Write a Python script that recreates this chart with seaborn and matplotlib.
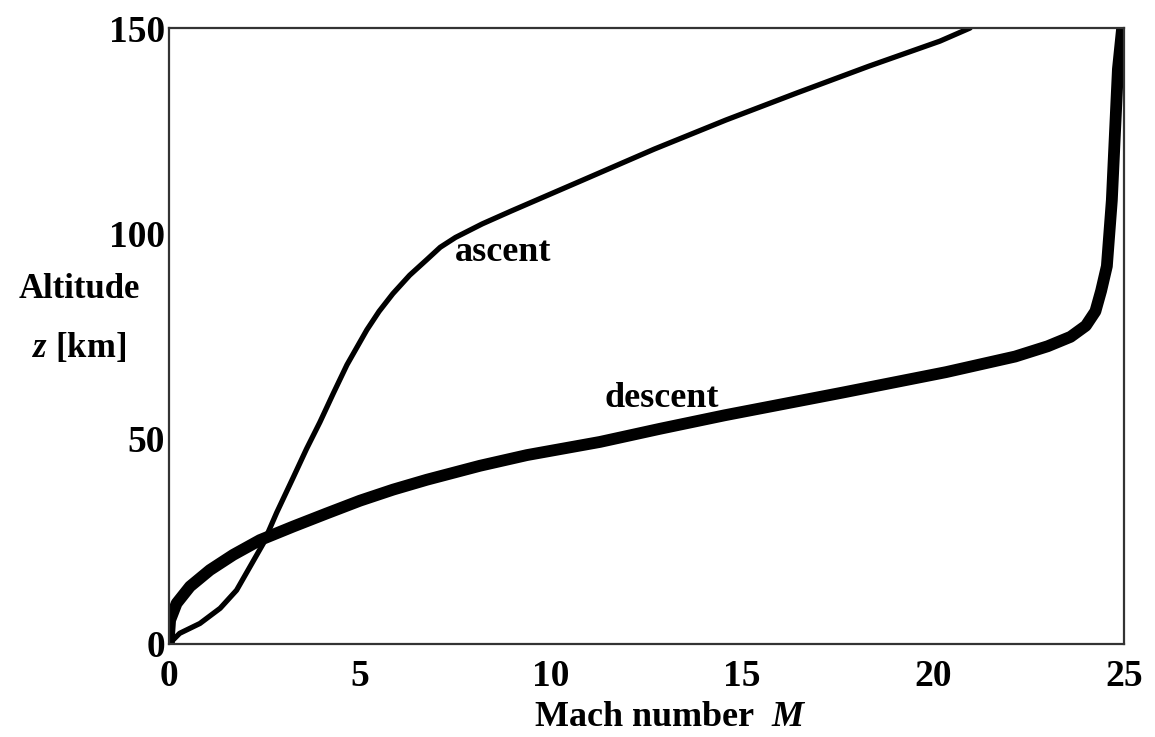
import numpy as np
import pandas as pd
import matplotlib
matplotlib.use("Agg")
import matplotlib.pyplot as plt
import seaborn as sns

# ascent trajectory: Mach number vs altitude [km]
ascent_M = [0.0, 0.28, 0.81, 1.34, 1.77, 2.12, 2.47, 2.82, 3.25, 3.6, 3.95, 4.3,
            4.66, 5.18, 5.5, 5.86, 6.3, 6.75, 7.1, 7.5, 8.2, 8.95, 10.84, 12.7, 14.58,
            16.44, 18.32, 20.18, 20.97]
ascent_z = [0.0, 2.6, 5.0, 8.7, 13.1, 18.8, 24.5, 32.0, 40.5, 47.5, 54.0, 61.0,
            68.0, 76.5, 81.0, 85.3, 89.8, 93.6, 96.6, 99.0, 102.3, 105.4, 113.0, 120.5, 127.6,
            134.2, 140.7, 146.8, 150.0]

# descent trajectory
descent_M = [0.0, 0.0, 0.03, 0.2, 0.55, 1.07, 1.68, 2.38, 3.25, 4.13, 5.0, 5.87, 6.75,
             8.14, 9.37, 11.28, 12.85, 14.55, 17.62, 20.34, 22.15, 23.0, 23.6, 24.0,
             24.25, 24.4, 24.55, 24.68, 24.76, 24.84, 24.95]
descent_z = [0.0, 1.8, 5.8, 9.9, 14.0, 18.0, 21.7, 25.3, 28.6, 31.8, 34.9, 37.6, 40.0,
             43.4, 46.0, 49.2, 52.4, 55.7, 61.2, 66.2, 70.0, 72.5, 74.8, 77.5,
             81.0, 86.0, 92.0, 108.0, 124.0, 140.0, 150.0]

x_ticks = [0, 5, 10, 15, 20, 25]
y_ticks = [0, 50, 100, 150]

sns.set_style("white")
plt.rcParams['font.family'] = ['Liberation Serif', 'DejaVu Serif']
plt.rcParams['font.weight'] = 'bold'
plt.rcParams['text.color'] = 'black'
plt.rcParams['axes.labelcolor'] = 'black'
plt.rcParams['xtick.color'] = 'black'
plt.rcParams['ytick.color'] = 'black'
plt.rcParams['mathtext.fontset'] = 'custom'
plt.rcParams['mathtext.it'] = 'Liberation Serif:italic:bold'
plt.rcParams['mathtext.rm'] = 'Liberation Serif:bold'

df_up = pd.DataFrame({'M': ascent_M, 'z': ascent_z})
df_down = pd.DataFrame({'M': descent_M, 'z': descent_z})

fig = plt.figure(figsize=(11.55, 7.37), dpi=100)
ax = fig.add_axes([0.1463, 0.1262, 0.8269, 0.8358])

sns.lineplot(data=df_up, x='M', y='z', sort=False, estimator=None, color='black',
             linewidth=3.8, solid_capstyle='round', solid_joinstyle='round', ax=ax)
sns.lineplot(data=df_down, x='M', y='z', sort=False, estimator=None, color='black',
             linewidth=8.5, solid_capstyle='round', solid_joinstyle='round', ax=ax)

ax.set_xlim(0, 25)
ax.set_ylim(0, 150)
ax.set_xticks(x_ticks)
ax.set_yticks(y_ticks)
ax.tick_params(axis='both', length=0, labelsize=27, colors='black')
ax.tick_params(axis='x', pad=11)
ax.tick_params(axis='y', pad=3)
for lab in ax.get_xticklabels() + ax.get_yticklabels():
    lab.set_fontweight('bold')

for sp in ax.spines.values():
    sp.set_visible(True)
    sp.set_color('#333333')
    sp.set_linewidth(1.6)

ax.set_xlabel(r"Mach number  $\mathit{M}$", fontsize=26, fontweight='bold')
ax.xaxis.set_label_coords(0.525, -0.092)
ax.set_ylabel("")

fig.text(79 / 1155, 1 - 290 / 737, "Altitude", fontsize=25, fontweight='bold',
         ha='center', va='center')
fig.text(79 / 1155, 1 - 348 / 737, r"$\mathit{z}$ [km]", fontsize=25, fontweight='bold',
         ha='center', va='center')

ax.text(7.49, 95.4, "ascent", fontsize=26, fontweight='bold', ha='left', va='center')
ax.text(11.41, 59.9, "descent", fontsize=26, fontweight='bold', ha='left', va='center')

fig.savefig("out.png", dpi=100)
